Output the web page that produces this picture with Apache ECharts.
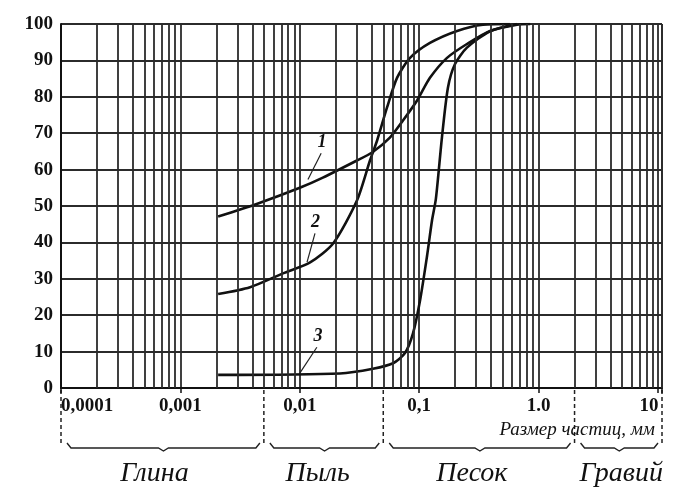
<!DOCTYPE html>
<html>
<head>
<meta charset="utf-8">
<script src="https://cdn.jsdelivr.net/npm/echarts@6/dist/echarts.min.js"></script>
<style>
html, body { margin: 0; padding: 0; background: #fff; }
#chart { width: 676px; height: 490px; }
</style>
</head>
<body>
<div id="chart"></div>
<script>
// tick labels of the log axis
var tickValues = [0.0001, 0.001, 0.01, 0.1, 1, 10];
var tickLabels = ['0,0001', '0,001', '0,01', '0,1', '1.0', '10'];
var xMin = 0.0001, xMax = 10.8;

// intermediate grid lines inside each decade
var decades = [0.0001, 0.001, 0.01, 0.1, 1];
var gridMults = [2, 3, 4, 5, 6, 7, 8, 9];

// curves: [particle size mm, percent passing]
var curve1 = [[0.00207, 47.1], [0.00447, 50.7], [0.0100, 55], [0.0156, 57.8], [0.0301, 62.5],
    [0.0403, 64.7], [0.0568, 68.8], [0.0731, 73.5], [0.096, 79], [0.123, 85.2], [0.171, 90.7],
    [0.251, 94.5], [0.392, 98.1], [0.659, 99.8], [0.85, 100]];
var curve2 = [[0.00207, 25.8], [0.00383, 27.7], [0.00723, 31.5], [0.0122, 34.5], [0.0190, 39.7],
    [0.0301, 51.5], [0.0387, 62.5], [0.0444, 68], [0.0537, 77], [0.0652, 85.2], [0.0838, 90.7],
    [0.123, 94.8], [0.2075, 98.1], [0.342, 99.8], [0.575, 100]];
var curve3 = [[0.00207, 3.6], [0.0217, 4.0], [0.0410, 5.3], [0.0604, 6.8], [0.0760, 9.6],
    [0.0887, 15], [0.1017, 24.1], [0.116, 36], [0.128, 46], [0.138, 52], [0.155, 68.8],
    [0.174, 82.5], [0.1995, 89], [0.251, 93.5], [0.392, 98], [0.659, 100]];

// curve number labels: [label, leader start, leader end]
var curveTags = [
    ['1', [0.0151, 64.5], [0.0117, 57.3]],
    ['2', [0.0134, 42.5], [0.0115, 34.6]],
    ['3', [0.0139, 11.2], [0.0100, 4.1]]
];

// soil fractions (bounds in mm)
var fractions = ['Глина', 'Пыль', 'Песок', 'Гравий'];
var fractionBounds = [0.0001, 0.005, 0.05, 2, xMax];
var nameShift = [-9, -7, -8, 2];

var serif = '"Liberation Serif", "DejaVu Serif", serif';
var ink = '#111';
var gridColor = '#2b2b2b';

var minorLines = [];
decades.forEach(function (d) {
    gridMults.forEach(function (m) {
        minorLines.push({ xAxis: d * m });
    });
});

function curveSeries(data, tag) {
    return {
        type: 'line',
        data: data,
        showSymbol: false,
        smooth: 0.25,
        lineStyle: { color: ink, width: 2.6 },
        markLine: {
            silent: true,
            precision: 10,
            symbol: ['none', 'none'],
            lineStyle: { color: '#222', width: 1.2, type: 'solid' },
            label: {
                show: true,
                position: 'start',
                formatter: tag[0],
                fontFamily: serif,
                fontStyle: 'italic',
                fontWeight: 'bold',
                fontSize: 18,
                color: ink,
                distance: 2
            },
            data: [[{ coord: tag[1] }, { coord: tag[2] }]]
        }
    };
}

var myChart = echarts.init(document.getElementById('chart'));

var option = {
    animation: false,
    backgroundColor: '#fff',
    grid: { left: 61, right: 14, top: 24, bottom: 102 },
    xAxis: {
        type: 'log',
        logBase: 10,
        min: xMin,
        max: xMax,
        axisLine: { show: true, lineStyle: { color: ink, width: 2 } },
        axisTick: { show: true, length: 5, lineStyle: { color: ink, width: 1.5 } },
        splitLine: { show: true, lineStyle: { color: gridColor, width: 1.8 } },
        axisLabel: {
            interval: 0,
            margin: 9,
            fontFamily: serif,
            fontWeight: 'bold',
            fontSize: 19,
            color: ink,
            alignMinLabel: 'left',
            rich: { last: { padding: [0, 18, 0, 0], fontFamily: serif, fontWeight: 'bold', fontSize: 19, color: ink } },
            formatter: function (v) {
                for (var i = 0; i < tickValues.length; i++) {
                    if (Math.abs(Math.log10(v) - Math.log10(tickValues[i])) < 1e-6) {
                        return i === tickValues.length - 1 ? '{last|' + tickLabels[i] + '}' : tickLabels[i];
                    }
                }
                return '';
            }
        }
    },
    yAxis: {
        type: 'value',
        min: 0,
        max: 100,
        interval: 10,
        axisLine: { show: true, lineStyle: { color: ink, width: 2 } },
        axisTick: { show: false },
        splitLine: { show: true, lineStyle: { color: gridColor, width: 1.8 } },
        axisLabel: {
            margin: 8,
            fontFamily: serif,
            fontWeight: 'bold',
            fontSize: 19,
            color: ink
        }
    },
    series: [
        {
            type: 'line',
            data: [],
            silent: true,
            markLine: {
                silent: true,
                precision: 10,
                symbol: ['none', 'none'],
                label: { show: false },
                lineStyle: { color: gridColor, width: 1.8, type: 'solid' },
                data: minorLines.concat([{ xAxis: xMax }])
            }
        },
        curveSeries(curve1, curveTags[0]),
        curveSeries(curve2, curveTags[1]),
        curveSeries(curve3, curveTags[2])
    ]
};

option && myChart.setOption(option);

// fraction separators, braces and names under the axis
var px = fractionBounds.map(function (v) {
    return myChart.convertToPixel({ xAxisIndex: 0 }, v);
});
var yAxisPx = myChart.convertToPixel({ yAxisIndex: 0 }, 0);
var braceY = yAxisPx + 60;
var graphics = [];

px.forEach(function (x) {
    graphics.push({
        type: 'line',
        shape: { x1: x, y1: yAxisPx + 2, x2: x, y2: braceY - 4 },
        style: { stroke: '#222', lineWidth: 1.5, lineDash: [4, 3] }
    });
});

for (var i = 0; i < fractions.length; i++) {
    var a = px[i] + 6, b = px[i + 1] - 4, m = (a + b) / 2;
    graphics.push({
        type: 'polyline',
        shape: {
            points: [[a, braceY - 5], [a + 4, braceY], [m - 5, braceY], [m, braceY + 3],
                [m + 5, braceY], [b - 4, braceY], [b, braceY - 5]]
        },
        style: { fill: null, stroke: '#222', lineWidth: 1.4 }
    });
    graphics.push({
        type: 'text',
        style: {
            text: fractions[i],
            x: m + nameShift[i],
            y: braceY + 26,
            align: 'center',
            verticalAlign: 'middle',
            fontFamily: serif,
            fontStyle: 'italic',
            fontSize: 28,
            fill: ink
        }
    });
}

graphics.push({
    type: 'text',
    style: {
        text: 'Размер частиц, мм',
        x: 655,
        y: yAxisPx + 42,
        align: 'right',
        verticalAlign: 'middle',
        fontFamily: serif,
        fontStyle: 'italic',
        fontSize: 19,
        fill: ink
    }
});

myChart.setOption({ graphic: graphics });
</script>
</body>
</html>
